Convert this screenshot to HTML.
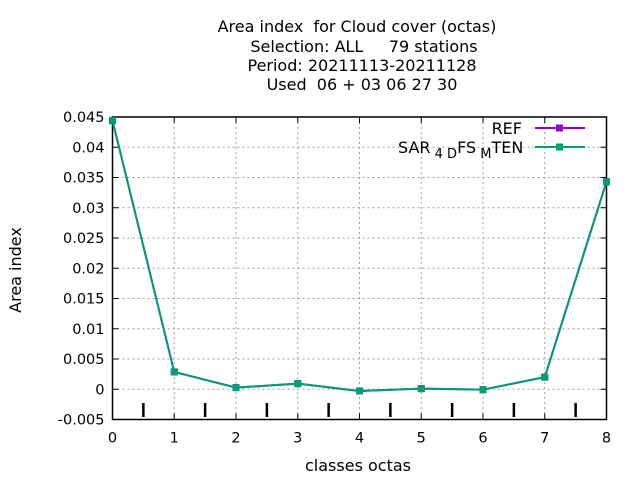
<!DOCTYPE html>
<html><head><meta charset="utf-8"><style>
body{margin:0;background:#fff}
svg text{font-family:"DejaVu Sans","Liberation Sans",sans-serif;font-size:14.5px;fill:#000;white-space:pre}
svg text.big{font-size:16px}
</style></head><body>
<svg width="640" height="480" xml:space="preserve">
<g id="grid"></g>
<g id="axes"></g>
<g id="series"></g>
<g text-anchor="middle">
<text class="big" x="357" y="32">Area index  for Cloud cover (octas)</text>
<text class="big" x="364" y="52">Selection: ALL     79 stations</text>
<text class="big" x="362" y="71">Period: 20211113-20211128</text>
<text class="big" x="362" y="90">Used  06 + 03 06 27 30</text>
</g>
<text class="big" x="358" y="471" text-anchor="middle">classes octas</text>
<text class="big" transform="translate(21,270) rotate(-90)" text-anchor="middle">Area index</text>
<g>
<text class="big" x="522" y="134" text-anchor="end">REF</text>
<line x1="535" y1="128" x2="585" y2="128" stroke="#9400d3" stroke-width="2"/>
<rect x="556" y="124.5" width="7" height="7" fill="#9400d3"/>
<text class="big" x="398" y="153">SAR<tspan font-size="13" dy="5"> 4 D</tspan><tspan dy="-5">FS</tspan><tspan font-size="13" dy="5"> M</tspan><tspan dy="-5">TEN</tspan></text>
<line x1="535" y1="147" x2="585" y2="147" stroke="#009e73" stroke-width="2"/>
<rect x="556" y="143.5" width="7" height="7" fill="#009e73"/>
</g>
</svg>
<script>
const categories=[0,1,2,3,4,5,6,7,8];
const refValues=[0.0444,0.00286,0.00027,0.00093,-0.00028,0.0001,-0.00007,0.002,0.0343];
const expValues=[0.0444,0.00286,0.00027,0.00093,-0.00028,0.0001,-0.00007,0.002,0.0343];
const yTicks=[-0.005,0,0.005,0.01,0.015,0.02,0.025,0.03,0.035,0.04,0.045];
const yTickLabels=["-0.005","0","0.005","0.01","0.015","0.02","0.025","0.03","0.035","0.04","0.045"];
const L=112.5,R=606.5,T=117,B=419.5;
const xs=v=>L+(v-0)/8*(R-L);
const ys=v=>B-(v+0.005)/0.05*(B-T);
const NS="http://www.w3.org/2000/svg";
function mk(parent,tag,attrs){const e=document.createElementNS(NS,tag);for(const k in attrs)e.setAttribute(k,attrs[k]);document.getElementById(parent).appendChild(e);return e;}
yTicks.forEach((t,i)=>{
 const y=ys(t);
 const g=mk('grid','line',{x1:L,x2:R,y1:y,y2:y,stroke:'#a0a0a0','stroke-dasharray':'2,3','stroke-width':1});
 
 
 mk('axes','line',{x1:L,x2:L+6,y1:y,y2:y,stroke:'#000'});
 mk('axes','line',{x1:R,x2:R-6,y1:y,y2:y,stroke:'#000'});
 const tx=mk('axes','text',{x:L-8,y:y+5,'text-anchor':'end'});tx.textContent=yTickLabels[i];
 
 
});
categories.forEach(c=>{
 const x=xs(c);
 const g=mk('grid','line',{x1:x,x2:x,y1:T,y2:B,stroke:'#a0a0a0','stroke-dasharray':'2,3','stroke-width':1});
 
 
 mk('axes','line',{x1:x,x2:x,y1:B,y2:B-6,stroke:'#000'});
 mk('axes','line',{x1:x,x2:x,y1:T,y2:T+6,stroke:'#000'});
 const tx=mk('axes','text',{x:x,y:B+23,'text-anchor':'middle'});tx.textContent=String(c);
 
 
 if(c<8){const m=mk('axes','line',{x1:xs(c+0.5),x2:xs(c+0.5),y1:403,y2:417,stroke:'#000','stroke-width':2.5});
 
 }
});
const fr=mk('axes','rect',{x:L,y:T,width:R-L,height:B-T,fill:'none',stroke:'#000','stroke-width':1.5});


function drawSeries(vals,color,name){
 const p=mk('series','polyline',{points:vals.map((v,i)=>xs(categories[i])+','+ys(v)).join(' '),fill:'none',stroke:color,'stroke-width':2});
 
 
 vals.forEach((v,i)=>{const r=mk('series','rect',{x:xs(categories[i])-3.5,y:ys(v)-3.5,width:7,height:7,fill:color});
 
 });
}
drawSeries(refValues,'#9400d3','ref');
drawSeries(expValues,'#009e73','sar');
</script>
</body></html>
